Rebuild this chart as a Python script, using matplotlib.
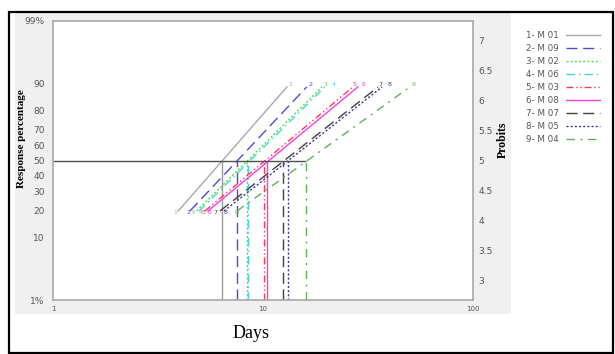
import numpy as np
import matplotlib.pyplot as plt
from matplotlib.patches import Rectangle
from statistics import NormalDist

# lines of the probit chart: day where each fit starts (20%) and ends (89%), plus LT50
labels = ['1- M 01', '2- M 09', '3- M 02', '4- M 06', '5- M 03',
          '6- M 08', '7- M 07', '8- M 05', '9- M 04']
numbers = ['1', '2', '3', '4', '5', '6', '7', '8', '9']
day_start = [3.95, 4.49, 4.83, 4.96, 5.29, 5.47, 6.24, 6.52, 7.52]
day_end = [13.0, 16.15, 19.1, 19.7, 26.8, 28.3, 35.3, 36.9, 50.1]
lt50 = [6.38, 7.50, 8.36, 8.46, 10.15, 10.45, 12.5, 13.1, 16.0]
pct_start = 20
pct_end = 89

pct_ticks = [1, 10, 20, 30, 40, 50, 60, 70, 80, 90, 99]
pct_labels = ['1%', '10', '20', '30', '40', '50', '60', '70', '80', '90', '99%']
probit_ticks = [3, 3.5, 4, 4.5, 5, 5.5, 6, 6.5, 7]
day_ticks = [1, 10, 100]

colors = ['#a8a8a8', '#4a4ae0', '#50e050', '#40d8e0', '#ff3a4a',
          '#f040f0', '#404040', '#383890', '#60b060']
styles = ['-', (0, (8, 4)), (0, (1.5, 1.5)), (0, (6, 3, 1, 3)),
          (0, (5, 2, 1, 2, 1, 2)), '-', (0, (8, 4)), (0, (1.5, 1.5)),
          (0, (6, 4, 1.5, 4))]
# small x shifts (points) of the end numbers so the packed ones don't collide
top_dx = [1, 1, 1, 5, 0, 3, 0, 4, 1]
bot_dx = [-2, -1, -3, 1, -1, 1, -3, 1, 0]

nd = NormalDist()


def fwd(p):
    p = np.clip(np.asarray(p, dtype=float) / 100, 1e-9, 1 - 1e-9)
    return np.vectorize(nd.inv_cdf, otypes=[float])(p)


def inv(z):
    return np.vectorize(nd.cdf, otypes=[float])(np.asarray(z, dtype=float)) * 100


W, H = 615, 354
fig = plt.figure(figsize=(W / 100, H / 100), dpi=100)

# grey panel and outer frame
fig.patches.append(Rectangle((15 / W, 1 - 313 / H), 495 / W, 300 / H,
                             transform=fig.transFigure, color='#f0f0f0', zorder=-2))
fig.patches.append(Rectangle((9 / W, 1 - 353 / H), 604 / W, 341 / H,
                             transform=fig.transFigure, fill=False,
                             edgecolor='black', lw=1.6, zorder=5))

ax = fig.add_axes([53 / W, 1 - 300 / H, 420 / W, 279 / H])
ax.set_xscale('log')
ax.set_yscale('function', functions=(fwd, inv))
ax.set_xlim(1, 100)
ax.set_ylim(1, 99)

handles = []
for i in range(9):
    ln, = ax.plot([day_start[i], day_end[i]], [pct_start, pct_end],
                  color=colors[i], ls=styles[i], lw=1.0)
    handles.append(ln)
    ax.vlines(lt50[i], 1, 50, color=colors[i] if i else '#999999',
              ls=styles[i], lw=1.0)
    ax.annotate(numbers[i], (day_end[i], pct_end), xytext=(top_dx[i], 0),
                textcoords='offset points', fontsize=4.5, color=colors[i],
                va='bottom', ha='left')
    ax.annotate(numbers[i], (day_start[i], pct_start), xytext=(bot_dx[i], -1),
                textcoords='offset points', fontsize=4.5, color=colors[i],
                va='center', ha='center')

ax.hlines(50, 1, max(lt50), color='#505050', lw=1.0)

ax.set_yticks(pct_ticks)
ax.set_yticklabels(pct_labels)
ax.set_xticks(day_ticks)
ax.set_xticklabels([str(d) for d in day_ticks])
ax.minorticks_off()
ax.tick_params(axis='y', length=0, pad=6, labelsize=6.5, labelcolor='#555555')
ax.tick_params(axis='x', length=0, pad=4, labelsize=5, labelcolor='#555555')
for s in ax.spines.values():
    s.set_color('#a8a8a8')
    s.set_linewidth(1.2)

ax2 = ax.twinx()
ax2.set_ylim(5 + nd.inv_cdf(0.01), 5 + nd.inv_cdf(0.99))
ax2.set_yticks(probit_ticks)
ax2.set_yticklabels([f'{t:g}' for t in probit_ticks])
ax2.tick_params(axis='y', length=0, pad=4, labelsize=6.5, labelcolor='#555555')
for s in ax2.spines.values():
    s.set_visible(False)

fig.text(22 / W, 1 - 139 / H, 'Response percentage', rotation=90,
         family='Liberation Serif', weight='bold', fontsize=8,
         ha='center', va='center')
fig.text(503 / W, 1 - 140 / H, 'Probits', rotation=90,
         family='Liberation Serif', weight='bold', fontsize=8.5,
         ha='center', va='center')
fig.text(251 / W, 1 - 333 / H, 'Days', family='Liberation Serif',
         fontsize=13, ha='center', va='center')

leg = fig.legend(handles, labels, loc='upper left',
                 bbox_to_anchor=(522 / W, 1 - 28 / H), frameon=False,
                 markerfirst=False, fontsize=6.3, handlelength=3.9,
                 labelspacing=0.45, handletextpad=0.8, borderaxespad=0)
for t in leg.get_texts():
    t.set_color('#555555')

fig.savefig('out.png', dpi=100)
